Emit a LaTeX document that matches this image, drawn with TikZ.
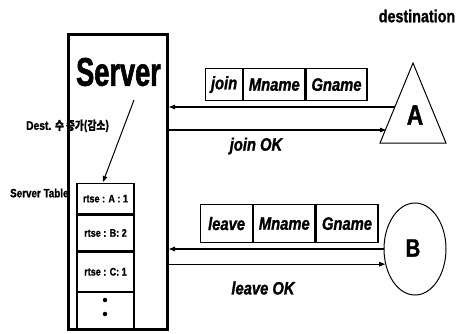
\documentclass[tikz,border=0pt]{standalone}
\usepackage{fontspec}
\setmainfont{Liberation Sans}
\newfontfamily\cfS[FakeStretch=0.68,FakeBold=1.5]{Liberation Sans}
\newfontfamily\cf[FakeStretch=0.82,FakeBold=1.2]{Liberation Sans}
\newfontfamily\krf[FakeStretch=0.8,FakeBold=1.2]{Noto Sans CJK KR}
\usetikzlibrary{arrows.meta,shapes.geometric}
\tikzset{
  conn/.style={line width=1.1pt,-{Triangle[length=6pt,width=4.5pt]}},
  pkt/.style={draw,line width=1.2pt,inner sep=0pt,anchor=north west,font=\cf\bfseries\itshape\fontsize{18}{18}\selectfont},
  row/.style={draw,line width=1.3pt,inner sep=0pt,minimum width=57,anchor=north,font=\cf\bfseries\fontsize{11}{11}\selectfont},
  lbl/.style={inner sep=0pt,font=\cf\bfseries\fontsize{12}{12}\selectfont},
}
\begin{document}
\begin{tikzpicture}[x=1pt,y=-1pt]
\useasboundingbox[fill=white] (0,0) rectangle (461,333);
% server table label (partly hidden by the box)
\node[lbl,anchor=west] (stl) at (10,193) {Server Table};
% server box
\node[draw,fill=white,line width=3pt,minimum width=99,minimum height=295,inner sep=0] (srv) at (118,182) {};
\node[inner sep=0pt,font=\cfS\bfseries\fontsize{40}{40}\selectfont] (srvt) at (118.5,72) {Server};
% table
\node[row,minimum height=30] (r1) at (105.5,183) {rtse : A : 1};
\node[row,minimum height=36] (r2) at (r1.south) {rtse : B: 2};
\node[row,minimum height=39] (r3) at (r2.south) {rtse : C: 1};
\node[row,minimum height=38] (r4) at (r3.south) {};
\node[circle,fill,inner sep=0,minimum size=4.5] (dot1) at (105,300) {};
\node[circle,fill,inner sep=0,minimum size=4.5] (dot2) at (105,314) {};
% dest label and arrow
\node[inner sep=0pt,anchor=west,font=\cf\bfseries\fontsize{12.5}{12.5}\selectfont] (dl) at (26,126) {Dest. {\krf\bfseries\fontsize{12}{12}\selectfont 수 증가(감소)}};
\coordinate (dstart) at (134,100);
\coordinate (dend) at (103,182);
\draw[conn,line width=1pt] (dstart) -- (dend);
% destination
\node[inner sep=0pt,font=\cf\bfseries\fontsize{17.5}{17.5}\selectfont] (dest) at (417,16) {destination};
% triangle A
\draw[line width=1pt] (413,63) -- (446,143) -- (380,143) -- cycle;
\node[inner sep=0pt,font=\cf\bfseries\fontsize{28}{28}\selectfont] (A) at (415,115) {A};
\coordinate (Ain) at (395,107);
\coordinate (Aout) at (386,130);
% join packet
\node[pkt,minimum width=37,minimum height=32] (j1) at (205,68) {join};
\node[pkt,minimum width=61,minimum height=32] (j2) at (j1.north east) {Mname};
\node[pkt,minimum width=61,minimum height=32] (j3) at (j2.north east) {Gname};
\draw[conn] (Ain) -- (srv.east |- Ain);
\draw[conn] (srv.east |- Aout) -- (Aout);
\node[inner sep=0pt,font=\cf\bfseries\itshape\fontsize{18}{18}\selectfont] (jok) at (256,146) {join OK};
% circle B
\node[ellipse,draw,line width=1pt,minimum width=62,minimum height=92,inner sep=0] (B) at (415,249) {};
\node[inner sep=0pt,font=\cf\bfseries\fontsize{25}{25}\selectfont] (Bt) at (413,248) {B};
% leave packet
\node[pkt,minimum width=52,minimum height=38] (l1) at (200,204) {leave};
\node[pkt,minimum width=61,minimum height=38] (l2) at (l1.north east) {Mname};
\node[pkt,minimum width=62,minimum height=38] (l3) at (l2.north east) {Gname};
\draw[conn] (B.west) -- (srv.east |- B.west);
\draw[conn] (srv.east |- B.207) -- (B.207);
\node[inner sep=0pt,font=\cf\bfseries\itshape\fontsize{18}{18}\selectfont] (lok) at (263,288) {leave OK};
\end{tikzpicture}
\end{document}
